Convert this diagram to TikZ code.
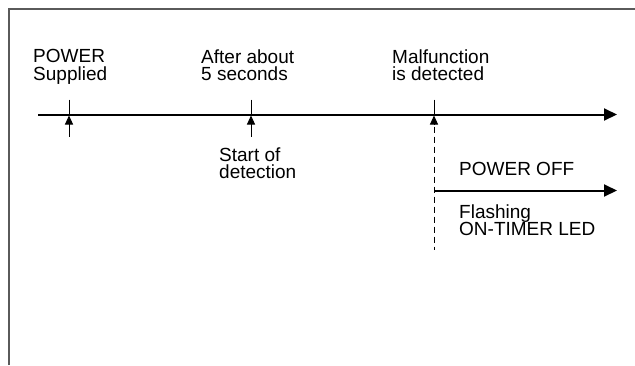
\documentclass[tikz,border=0pt]{standalone}
\usepackage{fontspec}
\setmainfont{Liberation Sans}
\usepackage{xcolor}
\usetikzlibrary{positioning,calc}
\usetikzlibrary{arrows.meta,arrows}
\definecolor{frameGray}{HTML}{5A5A5A}
\tikzstyle{lbl}  =[anchor=north west,inner sep=0pt,align=left,font=\fontsize{19}{17.5}\selectfont]
\tikzstyle{axis} =[line width=2pt,-{Triangle[length=13pt,width=12pt]}]
\tikzstyle{stub} =[line width=1pt]
\tikzstyle{tickarrow} =[line width=1pt,-{Triangle[length=9pt,width=8pt]}]
\tikzset{frameline/.style={draw=frameGray,line width=1.3pt}}

\begin{document}
\begin{tikzpicture}[x=1pt,y=-1pt]
      \useasboundingbox (0,0) rectangle (635,365);
      \draw[frameline] (9,365) -- (9,9) -- (635,9);
      % time line
      \coordinate (s) at (38,114.5);
      \coordinate (e) at (617,114.5);
      \draw[axis] (s) -- (e);
      % instants
      \coordinate (p1) at (69,114.5);
      \coordinate (p2) at (251,114.5);
      \coordinate (p3) at (434,114.5);
      \foreach \p in {p1,p2,p3}{
        \draw[stub] ($(\p)+(0,-15)$) -- (\p);
      }
      \foreach \p in {p1,p2}{
        \draw[tickarrow] ($(\p)+(0,22)$) -- ($(\p)+(0,1)$);
      }
      \coordinate (d) at (434,250);
      \draw[tickarrow] ($(p3)+(0,10)$) -- ($(p3)+(0,1)$);
      \draw[stub,dashed,dash pattern=on 6pt off 4pt] ($(p3)+(0,12)$) -- (d);
      % power off
      \coordinate (o) at (434,190.5);
      \coordinate (oe) at (617,190.5);
      \draw[axis] (o) -- (oe);
      \node[lbl] (supplied) at (33,49.5) {POWER\\Supplied};
      \node[lbl] (after) at (201,49.5) {After about\\5 seconds};
      \node[lbl] (malf) at (392,49.5) {Malfunction\\is detected};
      \node[lbl] (start) at (219,147.5) {Start of\\detection};
      \node[lbl] (off) at (459,162.5) {POWER OFF};
      \node[lbl] (flash) at (459,204.5) {Flashing\\ON-TIMER LED};
    \end{tikzpicture}
\end{document}
